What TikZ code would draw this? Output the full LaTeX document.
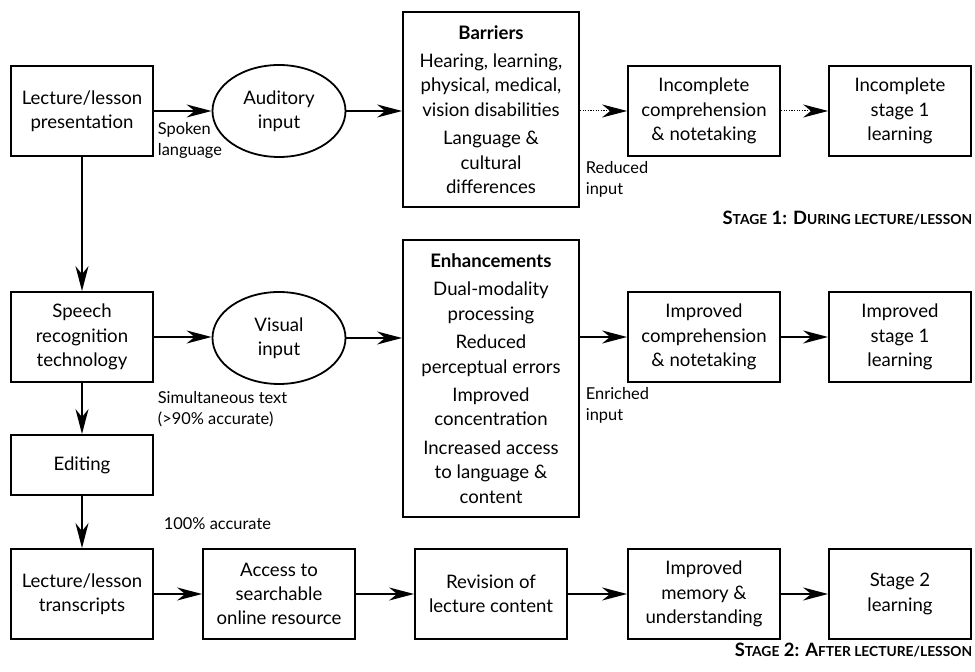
\documentclass[tikz,border=0pt]{standalone}
\usepackage{fontspec}
\setmainfont{Lato}
\usetikzlibrary{positioning}
\usetikzlibrary{arrows.meta}
\usetikzlibrary{shapes}
\newcommand{\lowcaps}[1]{{\fontsize{6.9}{8}\selectfont #1}}
\tikzset{
	x=0.5pt, y=-0.5pt,
	every path/.style={line width=0.9pt},
	box/.style={draw, rectangle, align=center, minimum width=71pt, minimum height=45pt, inner sep=2pt, font=\fontsize{9.3}{12.2}\selectfont},
	wbox/.style={box, minimum width=76pt},
	oval/.style={draw, ellipse, align=center, minimum width=66.5pt, minimum height=46pt, inner sep=0pt, font=\fontsize{9.3}{12.2}\selectfont},
	lbl/.style={align=left, inner sep=0pt, anchor=north west, font=\fontsize{8.2}{10.5}\selectfont},
	stage/.style={inner sep=0pt, anchor=base east, font=\bfseries\fontsize{9.2}{10}\selectfont},
	go/.style={-{Stealth[length=12.5pt,width=6.5pt,inset=4pt]}},
	weak/.style={go, line width=0.5pt, dash pattern=on 0.6pt off 0.7pt}
}

\begin{document}
\begin{tikzpicture}
	\useasboundingbox (0,0) rectangle (975,672);

	\node[box] (pres) at (82,111) {Lecture/lesson\\presentation};
	\node[oval] (aud) at (279,111) {Auditory\\input};
	\node[box, minimum width=88pt, minimum height=97.5pt] (barr) at (491,109.5) {\textbf{Barriers}\\[2pt] Hearing, learning,\\ physical, medical,\\ vision disabilities\\[2pt] Language \&\\ cultural\\ differences};
	\node[wbox] (icomp) at (704,111) {Incomplete\\comprehension\\\& notetaking};
	\node[box] (ilearn) at (900,111) {Incomplete\\stage 1\\learning};

	\node[box] (speech) at (82,337) {Speech\\recognition\\technology};
	\node[oval] (vis) at (279,338) {Visual\\input};
	\node[box, minimum width=88pt, minimum height=138.5pt] (enh) at (491,378.5) {\textbf{Enhancements}\\[2pt] Dual-modality\\ processing\\[2pt] Reduced\\ perceptual errors\\[2pt] Improved\\ concentration\\[2pt] Increased access\\ to language \&\\ content};
	\node[wbox] (pcomp) at (704,337) {Improved\\comprehension\\\& notetaking};
	\node[box] (plearn) at (900,337) {Improved\\stage 1\\learning};

	\node[box, minimum height=30pt] (edit) at (82,465) {Editing};

	\node[box] (trans) at (82,594) {Lecture/lesson\\transcripts};
	\node[wbox] (access) at (279,594) {Access to\\searchable\\online resource};
	\node[wbox] (revis) at (491,594) {Revision of\\lecture content};
	\node[wbox] (memory) at (704,594) {Improved\\memory \&\\understanding};
	\node[box] (slearn) at (900,594) {Stage 2\\learning};

	\node[lbl] (spoken) at (157,122) {Spoken\\language};
	\node[lbl] (reduced) at (585,161) {Reduced\\input};
	\node[lbl] (simul) at (157,391) {Simultaneous text\\(>90\% accurate)};
	\node[lbl] (enrich) at (585,387) {Enriched\\input};
	\node[lbl] (exact) at (163,517) {100\% accurate};

	\node[stage] (stage1) at (973,225) {S\lowcaps{TAGE} 1: D\lowcaps{URING LECTURE/LESSON}};
	\node[stage] (stage2) at (973,657) {S\lowcaps{TAGE} 2: A\lowcaps{FTER LECTURE/LESSON}};

	\path (pres) edge[go] (aud);
	\draw[go] (aud.east) -- (barr.west |- aud.east);
	\draw[weak] (barr.east |- icomp.west) -- (icomp.west);
	\path (icomp) edge[weak] (ilearn);

	\path (pres) edge[go] (speech);
	\draw[go] (speech.east) -- (vis.west |- speech.east);
	\draw[go] (vis.east) -- (enh.west |- vis.east);
	\draw[go] (enh.east |- pcomp.west) -- (pcomp.west);
	\path (pcomp) edge[go] (plearn);

	\path (speech) edge[go] (edit);
	\path (edit) edge[go] (trans);

	\path (trans) edge[go] (access);
	\path (access) edge[go] (revis);
	\path (revis) edge[go] (memory);
	\path (memory) edge[go] (slearn);
\end{tikzpicture}
\end{document}
